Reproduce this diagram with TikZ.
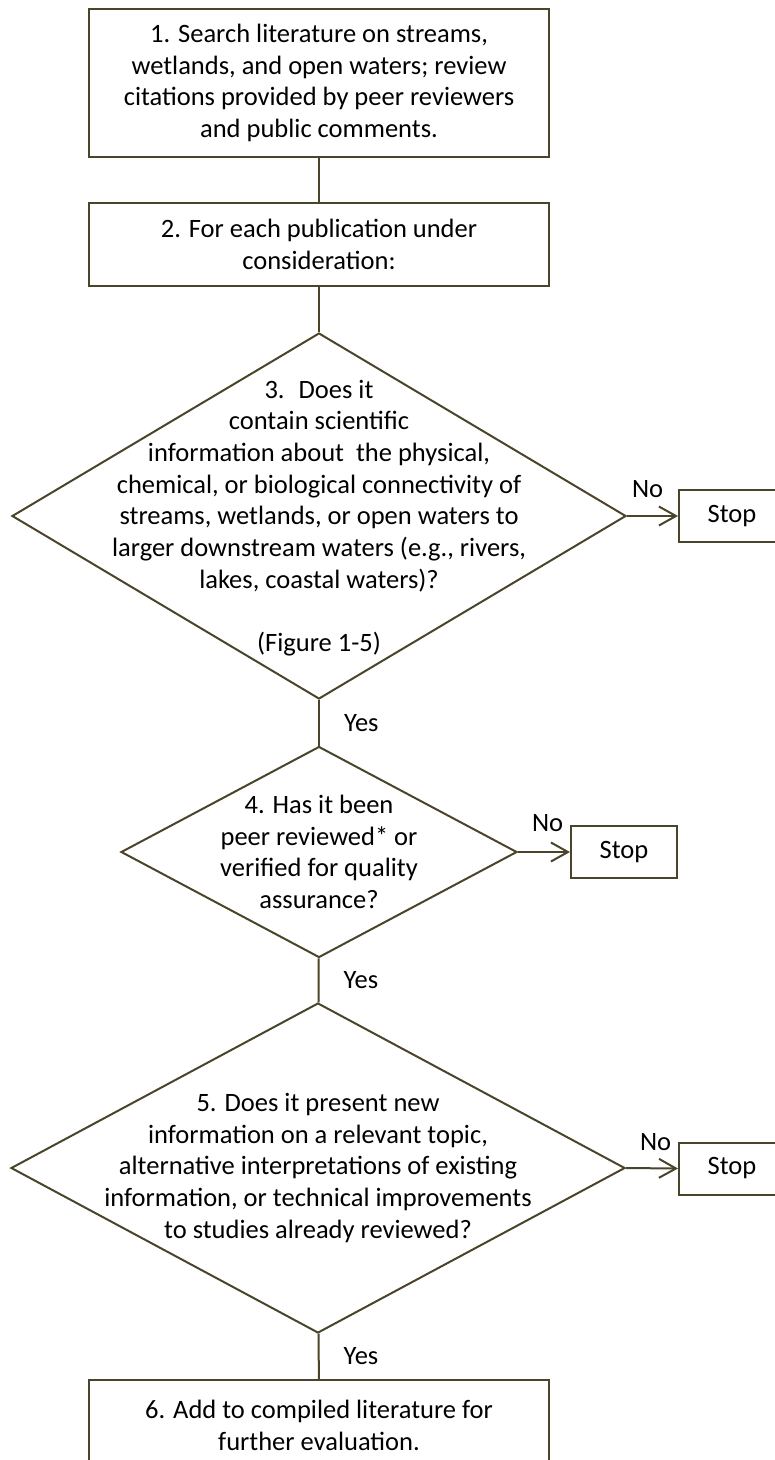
\documentclass[tikz,border=0pt]{standalone}
\usepackage{fontspec}
\setmainfont{Carlito}
\usepackage{tikz}
\usetikzlibrary{arrows,arrows.meta,shapes,positioning}
\definecolor{boxline}{HTML}{4A452A}

\begin{document}
\begin{tikzpicture}[x=1pt,y=-1pt,
    every node/.style={font=\fontsize{26.5}{31.7}\selectfont},
    stepbox/.style={draw=boxline,line width=2pt,align=center,minimum width=460pt,inner sep=0pt},
    decision/.style={draw=boxline,line width=2pt,diamond,inner sep=0pt},
    stopbox/.style={draw=boxline,line width=2pt,minimum width=106pt,minimum height=52pt,inner sep=0pt},
    link/.style={draw=boxline,line width=2pt},
    yes/.style={midway,right=24pt,inner sep=0pt},
    no/.style={pos=0,anchor=south west,inner sep=0pt}]
\useasboundingbox (0,0) rectangle (775,1460);
%draw steps
    \node[stepbox,minimum height=148pt] (s1) at (319,83) {1. Search literature on streams,\\ wetlands, and open waters; review\\ citations provided by peer reviewers\\ and public comments.};
    \node[stepbox,minimum height=83pt] (s2) at (319,244.5) {2. For each publication under\\ consideration:};
    \node[stepbox,minimum height=91pt] (s6) at (319,1425.5) {6. Add to compiled literature for\\ further evaluation.};
%draw decisions
    \node[decision,minimum width=614pt,minimum height=366pt] (q3) at (319,516) {};
    \node[decision,minimum width=396pt,minimum height=211pt] (q4) at (319,852) {};
    \node[decision,minimum width=614pt,minimum height=330pt] (q5) at (318,1168) {};
%insert decision texts
    \node[align=center] (q3t) at ([yshift=-2pt]q3.center) {3.~ Does it\\ contain scientific\\ information about~ the physical,\\ chemical, or biological connectivity of\\ streams, wetlands, or open waters to\\ larger downstream waters (e.g., rivers,\\ lakes, coastal waters)?\\[31.7pt] (Figure 1-5)};
    \node[align=center] (q4t) at (q4.center) {4. Has it been\\ peer reviewed* or\\ verified for quality\\ assurance?};
    \node[align=center] (q5t) at (q5.center) {5. Does it present new\\ information on a relevant topic,\\ alternative interpretations of existing\\ information, or technical improvements\\ to studies already reviewed?};
%draw stop boxes
    \node[stopbox] (stop3) at (732,516) {Stop};
    \node[stopbox] (stop4) at (624,852) {Stop};
    \node[stopbox] (stop5) at (732,1168.5) {Stop};
%draw plain edges
    \draw[link] (s1) -- (s2);
    \draw[link] (s2) -- (q3);
    \draw[link] (q3) -- (q4) node[yes] {Yes};
    \draw[link] (q4) -- (q5) node[yes] {Yes};
    \draw[link] (q5) -- (s6) node[yes] {Yes};
%draw directed edges
    \begin{scope}[every path/.style={link,-{Straight Barb[length=17pt,width=19pt]}}]
       \draw (q3.east) -- (stop3.west) node[no,xshift=4pt,yshift=17pt] {No};
       \draw (q4.east) -- (stop4.west) node[no,xshift=13pt,yshift=19pt] {No};
       \draw (q5.east) -- (stop5.west) node[no,xshift=13pt,yshift=16pt] {No};
    \end{scope}
\end{tikzpicture}
\end{document}
